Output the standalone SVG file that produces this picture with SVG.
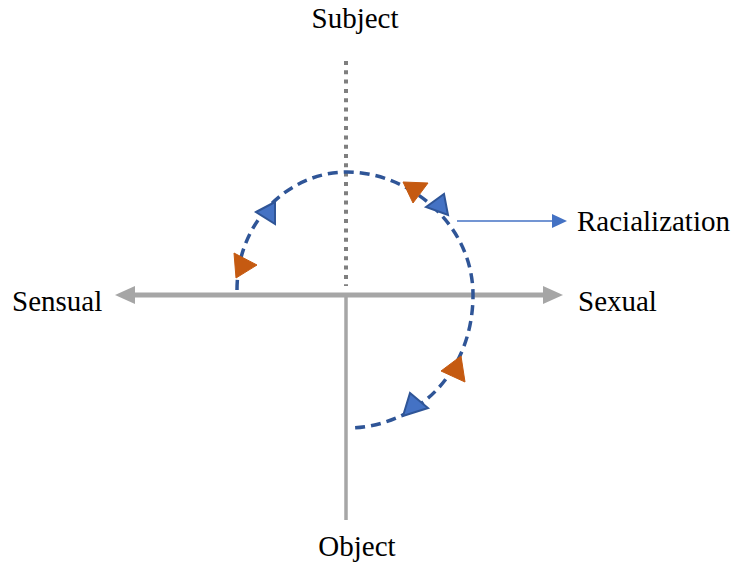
<svg xmlns="http://www.w3.org/2000/svg" width="735" height="563" viewBox="0 0 735 563">
<style>
.lbl{font-family:"Liberation Serif","Times New Roman",serif;font-size:29px;fill:#000}
.axis{stroke:#A6A6A6;fill:none}
.orange{fill:#C55A11;stroke:#C55A11;stroke-width:1}
.blue{fill:#4472C4;stroke:#2F5597;stroke-width:2;stroke-linejoin:miter}
</style>
<rect width="735" height="563" fill="#fff"/>
<g id="axes">
<line class="axis" x1="134" y1="295" x2="545" y2="295" stroke-width="5"/>
<polygon points="115,295 135,286 135,304" fill="#A6A6A6"/>
<polygon points="563,295 543,286 543,304" fill="#A6A6A6"/>
<line class="axis" x1="346" y1="297" x2="346" y2="520" stroke-width="3.5"/>
<line x1="346" y1="61" x2="346" y2="286" stroke="#7F7F7F" stroke-width="4" stroke-dasharray="4 5.3"/>
</g>
<g id="connectors">
<path d="M 237 290 C 237 220, 290 172, 347 172 C 410 172, 473 225, 473 295 C 473 370, 420 425, 352 428" fill="none" stroke="#2F5597" stroke-width="3.5" stroke-dasharray="10 6"/>
<line x1="457" y1="221" x2="553" y2="221" stroke="#4472C4" stroke-width="1.5"/>
<polygon points="567,221 552,214 552,228" fill="#4472C4"/>
</g>
<g id="markers">
<polygon class="orange" points="234,253 257,265 236,278"/>
<polygon class="blue" points="256,212 275,202 275,224"/>
<polygon class="orange" points="403,182 428,183 413,203"/>
<polygon class="blue" points="426,207 444,194 448,215"/>
<polygon class="orange" points="441,371 461,356 465,382"/>
<polygon class="blue" points="403,416 410,393 428,408"/>
</g>
<g id="subject"><text class="lbl" x="355" y="28" text-anchor="middle">Subject</text></g>
<g id="object"><text class="lbl" x="357" y="556" text-anchor="middle">Object</text></g>
<g id="sensual"><text class="lbl" x="12" y="311">Sensual</text></g>
<g id="sexual"><text class="lbl" x="578" y="311">Sexual</text></g>
<g id="racialization"><text class="lbl" x="577" y="231">Racialization</text></g>
</svg>
